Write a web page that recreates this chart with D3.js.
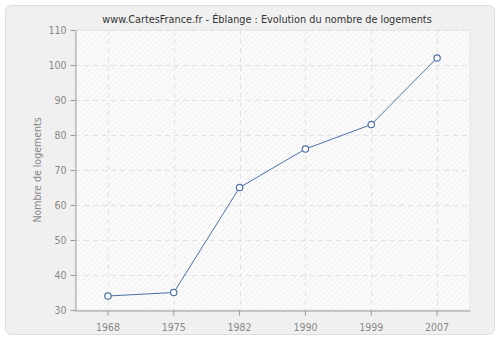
<!DOCTYPE html>
<html>
<head>
<meta charset="utf-8">
<script src="https://cdn.jsdelivr.net/npm/d3@7"></script>
<style>
  html, body { margin: 0; padding: 0; background: #ffffff; }
  svg { display: block; font-family: "DejaVu Sans Condensed", "DejaVu Sans", sans-serif; }
</style>
</head>
<body>
<svg id="chart" width="500" height="340"></svg>
<script>
// Housing count per census year
const years = ["1968", "1975", "1982", "1990", "1999", "2007"];
const logements = [34, 35, 65, 76, 83, 102];
const yTicks = [30, 40, 50, 60, 70, 80, 90, 100, 110];

const titleText = "www.CartesFrance.fr - Éblange : Evolution du nombre de logements";
const yLabel = "Nombre de logements";

const W = 500, H = 340;
const m = { left: 75, right: 30, top: 30, bottom: 30 };
const FONT = "\"DejaVu Sans Condensed\", \"DejaVu Sans\", sans-serif";

const svg = d3.select("#chart");

// Outer rounded panel
svg.append("rect")
  .attr("x", 5.5).attr("y", 5.5)
  .attr("width", W - 11).attr("height", H - 11)
  .attr("rx", 6).attr("ry", 6)
  .attr("fill", "#f0f0f0")
  .attr("stroke", "#dddddd");

// Diagonal hatch used for the plot background
const defs = svg.append("defs");
const pat = defs.append("pattern")
  .attr("id", "hatch")
  .attr("patternUnits", "userSpaceOnUse")
  .attr("width", 4).attr("height", 4)
  .attr("patternTransform", "rotate(45)");
pat.append("rect").attr("width", 4).attr("height", 4).attr("fill", "#fbfbfb");
pat.append("line")
  .attr("x1", 0).attr("y1", 0).attr("x2", 0).attr("y2", 4)
  .attr("stroke", "#eeeeee").attr("stroke-width", 1.5);

const x = d3.scaleBand()
  .domain(years)
  .range([m.left, W - m.right])
  .paddingInner(0).paddingOuter(0);

const y = d3.scaleLinear()
  .domain([30, 110])
  .range([H - m.bottom, m.top]);

const cx = d => x(d) + x.bandwidth() / 2;

// Plot background
svg.append("rect")
  .attr("x", m.left).attr("y", m.top)
  .attr("width", W - m.left - m.right)
  .attr("height", H - m.top - m.bottom)
  .attr("fill", "url(#hatch)")
  .attr("stroke", "#e6e6e6");

// Grid lines
const grid = svg.append("g")
  .attr("stroke", "#e2e2e2")
  .attr("stroke-dasharray", "5,4")
  .attr("stroke-width", 1);
grid.selectAll("line.h")
  .data(yTicks.slice(1))
  .join("line")
  .attr("x1", m.left).attr("x2", W - m.right)
  .attr("y1", d => Math.round(y(d)) + 0.5)
  .attr("y2", d => Math.round(y(d)) + 0.5);
grid.selectAll("line.v")
  .data(years)
  .join("line")
  .attr("x1", d => Math.round(cx(d)) + 0.5)
  .attr("x2", d => Math.round(cx(d)) + 0.5)
  .attr("y1", m.top).attr("y2", H - m.bottom);

// Axes
const yAxis = d3.axisLeft(y).tickValues(yTicks).tickSize(5).tickPadding(4).tickSizeOuter(0);
const gy = svg.append("g")
  .attr("transform", `translate(${m.left + 0.5},0)`)
  .call(yAxis);

const xAxis = d3.axisBottom(x).tickSize(5).tickSizeOuter(0);
const gx = svg.append("g")
  .attr("transform", `translate(0,${H - m.bottom + 0.5})`)
  .call(xAxis);

[gy, gx].forEach(g => {
  g.select(".domain").attr("stroke", "#999999");
  g.selectAll(".tick line").attr("stroke", "#999999");
  g.selectAll(".tick text")
    .attr("fill", "#888888")
    .style("font-size", "10.5px")
    .style("font-family", FONT);
});
gx.selectAll(".tick text").attr("dy", "1.15em");

// Axis title
svg.append("text")
  .attr("transform", `translate(41,${(m.top + H - m.bottom) / 2}) rotate(-90)`)
  .attr("text-anchor", "middle")
  .attr("fill", "#888888")
  .style("font-size", "10.5px")
  .style("font-family", FONT)
  .text(yLabel);

// Chart title
svg.append("text")
  .attr("x", 267).attr("y", 23)
  .attr("text-anchor", "middle")
  .attr("fill", "#333333")
  .style("font-size", "10.8px")
  .style("font-family", FONT)
  .text(titleText);

// Series line and markers
const line = d3.line()
  .x((d, i) => cx(years[i]))
  .y(d => y(d));

svg.append("path")
  .datum(logements)
  .attr("d", line)
  .attr("fill", "none")
  .attr("stroke", "#4a72a4")
  .attr("stroke-width", 1);

svg.selectAll("circle.pt")
  .data(logements)
  .join("circle")
  .attr("class", "pt")
  .attr("cx", (d, i) => cx(years[i]))
  .attr("cy", d => y(d))
  .attr("r", 3.2)
  .attr("fill", "#ffffff")
  .attr("stroke", "#4a72a4")
  .attr("stroke-width", 1.2);
</script>
</body>
</html>
